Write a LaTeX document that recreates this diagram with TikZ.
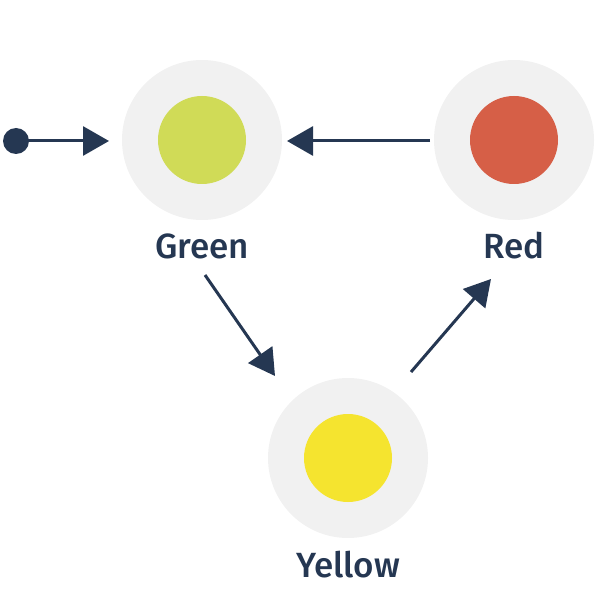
\documentclass[tikz,border=0pt]{standalone}
\usepackage{fontspec}
\setmainfont{Fira Sans Medium}
\usetikzlibrary{arrows.meta}

\definecolor{navy}{HTML}{253752}
\definecolor{ring}{HTML}{F1F1F1}
\definecolor{lgreen}{HTML}{D0DB57}
\definecolor{lred}{HTML}{D65F47}
\definecolor{lyellow}{HTML}{F5E42F}

\tikzset{
  light/.style={circle,fill=ring,minimum size=160pt,inner sep=0pt},
  lamp/.style={circle,fill=#1,minimum size=88pt,inner sep=0pt},
  lbl/.style={text=navy,font=\fontsize{35}{42}\selectfont},
  trans/.style={navy,line width=3pt,-{Triangle[length=26pt,width=29pt]}}
}

\begin{document}
\begin{tikzpicture}[x=1pt,y=-1pt]
\useasboundingbox (0,0) rectangle (601,601);
%\draw[step=50pt,gray,very thin] (0,0) grid (601,601); %background grid

\node[light] (green) at (202,140) {};
\node[light] (red) at (514,140) {};
\node[light] (yellow) at (348,458) {};

\node[lamp=lgreen] at (green) {};
\node[lamp=lred] at (red) {};
\node[lamp=lyellow] at (yellow) {};

\node[lbl] (greenlbl) at (202,246) {Green};
\node[lbl] (redlbl) at (514,246) {Red};
\node[lbl] (yellowlbl) at (348,565) {Yellow};

\node[circle,fill=navy,minimum size=26pt,inner sep=0pt] (start) at (16,141) {};

\coordinate (a1) at (109,141);
\coordinate (b0) at (430,141);
\coordinate (b1) at (287,141);
\coordinate (c0) at (205,275);
\coordinate (c1) at (275,376);
\coordinate (d0) at (411,372);
\coordinate (d1) at (491,279);

\draw[trans] (start.center) -- (a1);
\draw[trans] (b0) -- (b1);
\draw[trans] (c0) -- (c1);
\draw[trans] (d0) -- (d1);
\end{tikzpicture}
\end{document}
